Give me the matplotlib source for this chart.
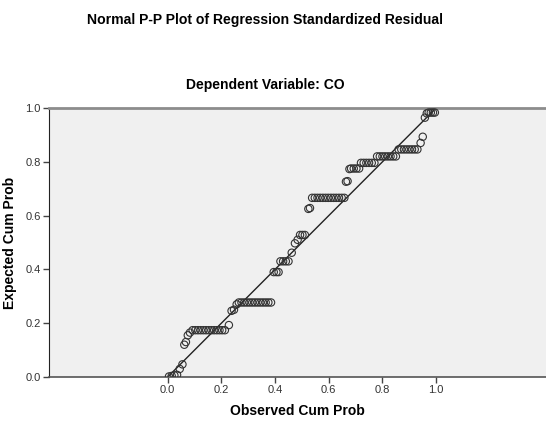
import matplotlib
matplotlib.use("Agg")
import matplotlib.pyplot as plt

plt.rcParams['font.family'] = ['Liberation Sans', 'DejaVu Sans']

# observed cum prob (x) / expected cum prob (y)
observed = [0.005, 0.015, 0.025, 0.035, 0.045, 0.055, 0.062, 0.068, 0.075, 0.083,
            0.093, 0.103, 0.113, 0.123, 0.133, 0.143, 0.153, 0.163, 0.173, 0.183,
            0.193, 0.203, 0.213,
            0.228, 0.238, 0.247, 0.257,
            0.265, 0.275, 0.285, 0.295, 0.305, 0.315, 0.325, 0.335, 0.345, 0.355,
            0.365, 0.375, 0.385,
            0.395, 0.405, 0.413,
            0.420, 0.430, 0.440, 0.450,
            0.462, 0.474, 0.484,
            0.493, 0.502, 0.511,
            0.524, 0.530,
            0.538, 0.548, 0.558, 0.568, 0.578, 0.588, 0.598, 0.608, 0.618, 0.628,
            0.638, 0.648, 0.658,
            0.664, 0.670, 0.677,
            0.683, 0.693, 0.703, 0.713,
            0.720, 0.730, 0.740, 0.750, 0.760, 0.770,
            0.780, 0.790, 0.800, 0.810, 0.820, 0.830, 0.840, 0.850,
            0.860, 0.870, 0.880, 0.890, 0.900, 0.910, 0.920, 0.930,
            0.942, 0.950, 0.958, 0.965,
            0.972, 0.980, 0.988, 0.995]
expected = [0.002, 0.004, 0.006, 0.008, 0.030, 0.047, 0.120, 0.130, 0.155, 0.165,
            0.174, 0.174, 0.174, 0.174, 0.174, 0.174, 0.174, 0.174, 0.174, 0.174,
            0.174, 0.174, 0.174,
            0.193, 0.246, 0.250, 0.270,
            0.277, 0.277, 0.277, 0.277, 0.277, 0.277, 0.277, 0.277, 0.277, 0.277,
            0.277, 0.277, 0.277,
            0.390, 0.390, 0.390,
            0.430, 0.430, 0.430, 0.430,
            0.462, 0.497, 0.510,
            0.528, 0.528, 0.528,
            0.625, 0.628,
            0.666, 0.666, 0.666, 0.666, 0.666, 0.666, 0.666, 0.666, 0.666, 0.666,
            0.666, 0.666, 0.666,
            0.726, 0.728, 0.773,
            0.775, 0.775, 0.775, 0.775,
            0.796, 0.796, 0.796, 0.796, 0.796, 0.796,
            0.820, 0.820, 0.820, 0.820, 0.820, 0.820, 0.820, 0.820,
            0.846, 0.846, 0.846, 0.846, 0.846, 0.846, 0.846, 0.846,
            0.870, 0.893, 0.964, 0.980,
            0.983, 0.983, 0.983, 0.983]
ticks = [0.0, 0.2, 0.4, 0.6, 0.8, 1.0]

fig = plt.figure(figsize=(5.46, 4.21), dpi=100)
ax = fig.add_axes([0.0897, 0.1045, 0.9103, 0.639])
ax.set_facecolor('#f0f0f0')

# reference line
ax.plot([0, 1], [0, 1], color='#222222', lw=1.0, zorder=2)
ax.scatter(observed, expected, s=28, facecolors='none', edgecolors='#333333',
           linewidths=0.8, zorder=3)

ax.set_xlim(-0.442, 1.409)
ax.set_ylim(0, 1)
ax.set_xticks(ticks)
ax.set_yticks(ticks)
ax.set_xticklabels([f"{t:.1f}" for t in ticks])
ax.set_yticklabels([f"{t:.1f}" for t in ticks])
ax.tick_params(direction='out', length=4, width=1, colors='#444444',
               labelsize=8, labelcolor='#333333', pad=2)

ax.spines['top'].set_color('#8c8c8c')
ax.spines['top'].set_linewidth(2)
ax.spines['right'].set_visible(False)
ax.spines['left'].set_color('#222222')
ax.spines['bottom'].set_color('#555555')
ax.spines['bottom'].set_linewidth(1.2)

ax.set_xlabel('Observed Cum Prob', fontsize=10, fontweight='bold', labelpad=6)
ax.set_ylabel('Expected Cum Prob', fontsize=10, fontweight='bold', labelpad=6)

# both titles are centred on the figure a bit left of the middle
fig.text(0.486, 0.798, 'Dependent Variable: CO', fontsize=10, fontweight='bold',
         ha='center', va='center')
fig.text(0.486, 0.968, 'Normal P-P Plot of Regression Standardized Residual',
         fontsize=10.1, fontweight='bold', ha='center', va='top')

fig.savefig('out.png', dpi=100)
